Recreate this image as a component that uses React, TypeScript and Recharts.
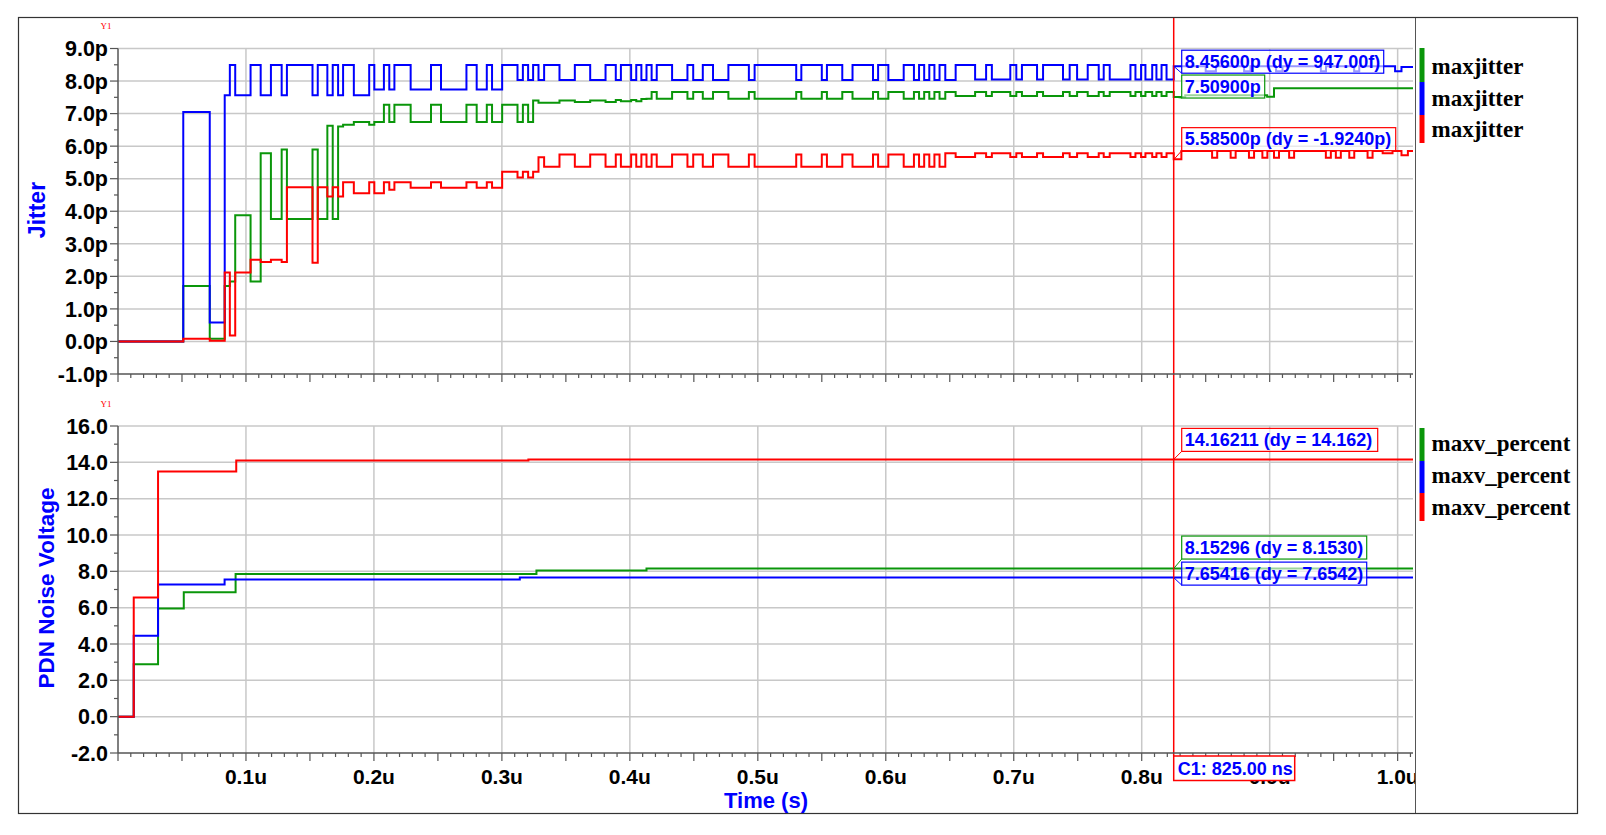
import React from 'react';
import { LineChart, Line, XAxis, YAxis, CartesianGrid, ReferenceLine, ReferenceDot } from 'recharts';

const SANS = '"Liberation Sans", Arial, Helvetica, sans-serif';
const SERIF = '"Liberation Serif", "Times New Roman", serif';
const BLUE = '#0000ff';
const GREEN = '#0a960a';
const RED = '#ff0000';
const GRID = '#c8c8c8';
const AXIS = '#555555';

// time in ns, value in ps — [time, value] steps
const blueJitter = [
  [0, 0], [51, 7.05], [71.7, 0.58], [83.4, 7.56], [87.4, 8.49], [91.6, 7.56], [103.6, 8.49], [111.5, 7.56],
  [119.5, 8.49], [127.9, 7.56], [132, 8.49], [152, 7.56], [156.1, 8.49], [163.6, 7.56], [167.8, 8.49], [172, 7.56],
  [175.9, 8.49], [184.3, 7.56], [196.3, 8.49], [200.3, 7.74], [207.8, 8.49], [212, 7.74], [216, 8.49], [228.7, 7.74],
  [244.6, 8.49], [252.4, 7.74], [272.3, 8.49], [280.3, 7.74], [288.2, 8.49], [292.3, 7.74], [300.2, 8.49], [312.2, 8.03],
  [316.4, 8.49], [320.5, 8.03], [324.4, 8.49], [328.6, 8.03], [333, 8.49], [345, 8.03], [357, 8.49], [369, 8.03],
  [381, 8.49], [389, 8.03], [393, 8.49], [401, 8.03], [405, 8.49], [409, 8.03], [413, 8.49], [417, 8.03],
  [421, 8.49], [433, 8.03], [445, 8.49], [449.5, 8.03], [457, 8.49], [465, 8.03], [477, 8.49], [493, 8.03],
  [497.5, 8.49], [530, 8.03], [534, 8.49], [550, 8.03], [554, 8.49], [566, 8.03], [574, 8.49], [590, 8.03],
  [594, 8.49], [602, 8.03], [614, 8.49], [622, 8.03], [626, 8.49], [630, 8.03], [634, 8.49], [638, 8.03],
  [642, 8.49], [646.5, 8.03], [654.6, 8.49], [669.8, 8.05], [678.4, 8.49], [682.9, 8.05], [697.3, 8.49], [702, 8.05],
  [706.4, 8.49], [718.2, 8.05], [722.9, 8.49], [738.5, 8.05], [743.7, 8.49], [749.5, 8.05], [757.8, 8.49], [766.4, 8.05],
  [770.3, 8.49], [775, 8.05], [791.2, 8.49], [795.1, 8.05], [799.5, 8.49], [802.9, 8.05], [808.2, 8.49], [811.5, 8.05],
  [815.5, 8.49], [819.4, 8.05], [825, 8.456], [850, 8.3], [858, 8.456], [880, 8.3], [885, 8.456], [905, 8.3],
  [910, 8.456], [940, 8.3], [944, 8.456], [966, 8.3], [970, 8.456], [998, 8.3], [1003, 8.43],
];

const greenJitter = [
  [0, 0], [51, 1.7], [71.7, 0.08], [83.4, 1.7], [87.4, 1.84], [91.6, 3.88], [103.6, 1.84], [111.5, 5.78],
  [119.5, 3.76], [127.9, 5.9], [132, 3.76], [152, 5.9], [156.1, 3.76], [163.6, 6.63], [167.8, 3.76], [172, 6.6],
  [175.9, 6.66], [184.3, 6.74], [196.3, 6.66], [200.3, 6.74], [207.8, 7.27], [212, 6.74], [216, 7.27], [228.7, 6.74],
  [244.6, 7.27], [252.4, 6.74], [272.3, 7.27], [280.3, 6.74], [288.2, 7.27], [292.3, 6.74], [300.2, 7.27], [312.2, 6.74],
  [316.4, 7.27], [320.5, 6.74], [324.4, 7.4], [328.6, 7.33], [345, 7.4], [357, 7.36], [369, 7.4], [381, 7.36],
  [389, 7.42], [393, 7.38], [401, 7.42], [405, 7.38], [409, 7.45], [413, 7.46], [417, 7.66], [421, 7.46],
  [433, 7.66], [445, 7.46], [449.5, 7.66], [457, 7.46], [465, 7.66], [477, 7.46], [493, 7.66], [497.5, 7.46],
  [530, 7.66], [534, 7.46], [550, 7.66], [554, 7.46], [566, 7.66], [574, 7.46], [590, 7.66], [594, 7.46],
  [602, 7.66], [614, 7.46], [622, 7.66], [626, 7.46], [630, 7.66], [634, 7.46], [638, 7.66], [642, 7.46],
  [646.5, 7.66], [654.6, 7.54], [669.8, 7.66], [678.4, 7.54], [682.9, 7.66], [697.3, 7.54], [702, 7.66], [706.4, 7.54],
  [718.2, 7.66], [722.9, 7.54], [738.5, 7.66], [743.7, 7.54], [749.5, 7.66], [757.8, 7.54], [766.4, 7.66], [770.3, 7.54],
  [775, 7.66], [791.2, 7.54], [795.1, 7.66], [799.5, 7.54], [802.9, 7.66], [808.2, 7.54], [811.5, 7.66], [815.5, 7.54],
  [819.4, 7.66], [825, 7.509], [834, 7.56], [898, 7.52], [903.4, 7.78],
];

const redJitter = [
  [0, 0], [51, 0.08], [71.7, 0.02], [83.4, 2.12], [87.4, 0.18], [91.6, 2.12], [103.6, 2.51], [111.5, 2.44],
  [119.5, 2.51], [127.9, 2.44], [132, 4.74], [152, 2.42], [156.1, 4.74], [163.6, 4.45], [167.8, 4.74], [172, 4.45],
  [175.9, 4.89], [184.3, 4.55], [196.3, 4.89], [200.3, 4.55], [207.8, 4.89], [212, 4.66], [216, 4.89], [228.7, 4.72],
  [244.6, 4.89], [252.4, 4.72], [272.3, 4.89], [280.3, 4.72], [288.2, 4.89], [292.3, 4.72], [300.2, 5.21], [312.2, 5.04],
  [316.4, 5.21], [320.5, 5.04], [324.4, 5.21], [328.6, 5.66], [333, 5.37], [345, 5.74], [357, 5.37], [369, 5.74],
  [381, 5.37], [389, 5.74], [393, 5.37], [401, 5.74], [405, 5.37], [409, 5.74], [413, 5.37], [417, 5.74],
  [421, 5.37], [433, 5.74], [445, 5.37], [449.5, 5.74], [457, 5.37], [465, 5.74], [477, 5.37], [493, 5.74],
  [497.5, 5.37], [530, 5.74], [534, 5.37], [550, 5.74], [554, 5.37], [566, 5.74], [574, 5.37], [590, 5.74],
  [594, 5.37], [602, 5.74], [614, 5.37], [622, 5.74], [626, 5.37], [630, 5.74], [634, 5.37], [638, 5.74],
  [642, 5.37], [646.5, 5.78], [654.6, 5.67], [669.8, 5.78], [678.4, 5.67], [682.9, 5.78], [697.3, 5.67], [702, 5.78],
  [706.4, 5.67], [718.2, 5.78], [722.9, 5.67], [738.5, 5.78], [743.7, 5.67], [749.5, 5.78], [757.8, 5.67], [766.4, 5.78],
  [770.3, 5.67], [775, 5.78], [791.2, 5.67], [795.1, 5.78], [799.5, 5.67], [802.9, 5.78], [808.2, 5.67], [811.5, 5.78],
  [815.5, 5.67], [819.4, 5.78], [825, 5.6], [831, 5.85], [855, 5.64], [859, 5.85], [869.5, 5.64], [873.4, 5.85],
  [883.8, 5.64], [887.8, 5.85], [894.3, 5.64], [898.2, 5.85], [903.4, 5.64], [907.3, 5.85], [915.2, 5.64], [919.1, 5.85],
  [943.9, 5.64], [947.8, 5.85], [951.7, 5.64], [955.6, 5.85], [962.2, 5.64], [966.1, 5.85], [976.5, 5.64], [980.4, 5.85],
  [988.3, 5.78], [996, 5.85], [1003, 5.72], [1008, 5.85],
];

const greenNoise = [[0, 0], [12.3, 2.89], [31.3, 5.95], [51.4, 6.85], [91.9, 7.85], [327, 8.05], [413, 8.153]];
const blueNoise = [[0, 0], [12.3, 4.46], [31.3, 7.28], [83.3, 7.55], [314, 7.654]];
const redNoise = [[0, 0], [12.3, 6.56], [31.3, 13.5], [92.4, 14.1], [320.7, 14.162]];

const T_END = 1012;
const CURSOR = 825;
const timeTicks = Array.from({ length: 102 }, (_, i) => i * 10);
const timeGrid = [100, 200, 300, 400, 500, 600, 700, 800, 900, 1000];
const jitterTicks = Array.from({ length: 21 }, (_, i) => -1 + i * 0.5);
const jitterGrid = [0, 1, 2, 3, 4, 5, 6, 7, 8, 9];
const noiseTicks = Array.from({ length: 19 }, (_, i) => -2 + i);
const noiseGrid = [0, 2, 4, 6, 8, 10, 12, 14, 16];

const jitterCallouts = [
  { value: 8.456, text: '8.45600p (dy = 947.00f)', color: BLUE, w: 202, dy: 7 },
  { value: 7.509, text: '7.50900p', color: GREEN, w: 83, dy: 1 },
  { value: 5.585, text: '5.58500p (dy = -1.9240p)', color: RED, w: 214, dy: -9 },
];
const noiseCallouts = [
  { value: 14.16211, text: '14.16211 (dy = 14.162)', color: RED, w: 196, dy: -8 },
  { value: 8.15296, text: '8.15296 (dy = 8.1530)', color: GREEN, w: 185, dy: -9.5 },
  { value: 7.65416, text: '7.65416 (dy = 7.6542)', color: BLUE, w: 185, dy: 7.5 },
];

// plot geometry shared by both charts
const CHART_W = 1420;
const AXIS_W = 118;
const RIGHT_PAD = 7;
const PLOT_W = CHART_W - AXIS_W - RIGHT_PAD;
const cursorX = AXIS_W + (CURSOR / T_END) * PLOT_W;

const stepAt = (steps: number[][], t: number) => {
  let v = steps[0][1];
  for (const [st, sv] of steps) {
    if (st <= t) v = sv;
    else break;
  }
  return v;
};

const buildTable = (series: Record<string, number[][]>) => {
  const all = new Set<number>([T_END]);
  Object.values(series).forEach((s) => s.forEach((p) => all.add(p[0])));
  const times = Array.from(all).sort((a, b) => a - b);
  return times.map((t) => {
    const row: any = { t };
    Object.keys(series).forEach((k) => (row[k] = stepAt(series[k], t)));
    return row;
  });
};

const jitterData = buildTable({ green: greenJitter, blue: blueJitter, red: redJitter });
const noiseData = buildTable({ green: greenNoise, blue: blueNoise, red: redNoise });

const makeXTick = (labels: boolean) => (p: any) => {
  const v = p.payload.value;
  const len = v % 50 === 0 ? 8 : 4;
  return (
    <g>
      <line x1={p.x} x2={p.x} y1={p.y} y2={p.y + len} stroke={AXIS} strokeWidth={1.2} />
      {labels && v > 0 && v % 100 === 0 && (
        <text x={p.x} y={p.y + 31} textAnchor="middle" fontFamily={SANS} fontWeight="bold" fontSize={21} fill="#000">
          {(v / 1000).toFixed(1)}u
        </text>
      )}
    </g>
  );
};

const makeYTick = (isMajor: (v: number) => boolean, fmt: (v: number) => string) => (p: any) => {
  const v = p.payload.value;
  const major = isMajor(v);
  return (
    <g>
      <line x1={p.x - (major ? 8 : 4)} x2={p.x} y1={p.y} y2={p.y} stroke={AXIS} strokeWidth={1.2} />
      {major && (
        <text x={p.x - 10} y={p.y} dy="0.36em" textAnchor="end" fontFamily={SANS} fontWeight="bold" fontSize={21.5} fill="#000">
          {fmt(v)}
        </text>
      )}
    </g>
  );
};

const makeCallout = (c: any) => (p: any) => {
  const { cx, cy } = p;
  const bx = cx + 8;
  const by = cy + c.dy;
  return (
    <g>
      <line x1={cx} y1={cy} x2={bx} y2={by} stroke={c.color} strokeWidth={1} />
      <rect x={bx} y={by - 23} width={c.w} height={23} fill="#fff" fillOpacity={0.6} stroke={c.color} strokeWidth={1.2} />
      <text x={bx + 3} y={by - 5.5} fontFamily={SANS} fontWeight="bold" fontSize={18} fill={BLUE}>
        {c.text}
      </text>
    </g>
  );
};

const UpperCursor = (p: any) => <line x1={p.x1} x2={p.x1} y1={17} y2={395} stroke={RED} strokeWidth={1.5} />;
const LowerCursor = (p: any) => <line x1={p.x1} x2={p.x1} y1={0} y2={361} stroke={RED} strokeWidth={1.5} />;

const lineProps = { type: 'stepAfter' as const, dot: false, strokeWidth: 2, isAnimationActive: false };

const App: React.FC = () => (
  <div style={{ position: 'absolute', left: 0, top: 0, width: 1606, height: 835, background: '#fff', overflow: 'hidden' }}>
    <div style={{ position: 'absolute', left: 0, top: 0 }}>
      <LineChart width={CHART_W} height={395} data={jitterData} margin={{ top: 48.5, right: RIGHT_PAD, bottom: 0, left: 0 }}>
        <CartesianGrid stroke={GRID} strokeWidth={1.5} verticalValues={timeGrid} horizontalValues={jitterGrid} />
        <XAxis dataKey="t" type="number" domain={[0, T_END]} ticks={timeTicks} interval={0} allowDataOverflow height={21}
          tickSize={0} tickMargin={0} tickLine={false} axisLine={{ stroke: AXIS, strokeWidth: 1.5 }} tick={makeXTick(false)} />
        <YAxis type="number" domain={[-1, 9]} ticks={jitterTicks} interval={0} allowDataOverflow width={AXIS_W}
          tickSize={0} tickMargin={0} tickLine={false} axisLine={{ stroke: AXIS, strokeWidth: 1.5 }}
          tick={makeYTick((v) => Number.isInteger(v), (v) => `${v.toFixed(1)}p`)} />
        <Line dataKey="green" stroke={GREEN} {...lineProps} />
        <Line dataKey="blue" stroke={BLUE} {...lineProps} />
        <Line dataKey="red" stroke={RED} {...lineProps} />
        <ReferenceLine x={CURSOR} shape={UpperCursor} />
        {jitterCallouts.map((c) => (
          <ReferenceDot key={c.text} x={CURSOR} y={c.value} ifOverflow="visible" shape={makeCallout(c)} />
        ))}
      </LineChart>
    </div>
    <div style={{ position: 'absolute', left: 0, top: 395 }}>
      <LineChart width={CHART_W} height={440} data={noiseData} margin={{ top: 31, right: RIGHT_PAD, bottom: 0, left: 0 }}>
        <CartesianGrid stroke={GRID} strokeWidth={1.5} verticalValues={timeGrid} horizontalValues={noiseGrid} />
        <XAxis dataKey="t" type="number" domain={[0, T_END]} ticks={timeTicks} interval={0} allowDataOverflow height={82}
          tickSize={0} tickMargin={0} tickLine={false} axisLine={{ stroke: AXIS, strokeWidth: 1.5 }} tick={makeXTick(true)} />
        <YAxis type="number" domain={[-2, 16]} ticks={noiseTicks} interval={0} allowDataOverflow width={AXIS_W}
          tickSize={0} tickMargin={0} tickLine={false} axisLine={{ stroke: AXIS, strokeWidth: 1.5 }}
          tick={makeYTick((v) => v % 2 === 0, (v) => v.toFixed(1))} />
        <Line dataKey="green" stroke={GREEN} {...lineProps} />
        <Line dataKey="blue" stroke={BLUE} {...lineProps} />
        <Line dataKey="red" stroke={RED} {...lineProps} />
        <ReferenceLine x={CURSOR} shape={LowerCursor} />
        {noiseCallouts.map((c) => (
          <ReferenceDot key={c.text} x={CURSOR} y={c.value} ifOverflow="visible" shape={makeCallout(c)} />
        ))}
      </LineChart>
    </div>
    <svg width={1606} height={835} style={{ position: 'absolute', left: 0, top: 0, pointerEvents: 'none' }}>
      <rect x={1416} y={18} width={161} height={795} fill="#fff" />
      <line x1={1415.5} x2={1415.5} y1={17.5} y2={813.5} stroke={AXIS} strokeWidth={1} />
      <rect x={18.5} y={17.5} width={1559} height={796} fill="none" stroke="#333" strokeWidth={1.2} />
      {/* cursor readout box sits over the x tick labels */}
      <rect x={cursorX} y={756} width={121} height={24.5} fill="#fff" stroke={RED} strokeWidth={1.5} />
      <text x={cursorX + 4} y={775} fontFamily={SANS} fontWeight="bold" fontSize={18} fill={BLUE}>C1: 825.00 ns</text>
      <text x={106} y={28.5} textAnchor="middle" fontFamily={SERIF} fontSize={9} fill={RED}>Y1</text>
      <text x={106} y={406.5} textAnchor="middle" fontFamily={SERIF} fontSize={9} fill={RED}>Y1</text>
      <text transform="translate(37,210) rotate(-90)" textAnchor="middle" dominantBaseline="central" fontFamily={SANS} fontWeight="bold" fontSize={23} fill={BLUE}>Jitter</text>
      <text transform="translate(46,588) rotate(-90)" textAnchor="middle" dominantBaseline="central" fontFamily={SANS} fontWeight="bold" fontSize={22.5} fill={BLUE}>PDN Noise Voltage</text>
      <text x={766} y={808} textAnchor="middle" fontFamily={SANS} fontWeight="bold" fontSize={22} fill={BLUE}>Time (s)</text>
      {[
        { y0: 48, y1: 82, c: GREEN, ty: 74, label: 'maxjitter' },
        { y0: 82, y1: 115, c: BLUE, ty: 105.5, label: 'maxjitter' },
        { y0: 115, y1: 143, c: RED, ty: 137, label: 'maxjitter' },
        { y0: 428, y1: 461, c: GREEN, ty: 451, label: 'maxv_percent' },
        { y0: 461, y1: 493, c: BLUE, ty: 483, label: 'maxv_percent' },
        { y0: 493, y1: 521, c: RED, ty: 514.5, label: 'maxv_percent' },
      ].map((l, i) => (
        <g key={i}>
          <rect x={1419.5} y={l.y0} width={5} height={l.y1 - l.y0} fill={l.c} />
          <text x={1431.5} y={l.ty} fontFamily={SERIF} fontWeight="bold" fontSize={23} fill="#000">{l.label}</text>
        </g>
      ))}
    </svg>
  </div>
);

export default App;
